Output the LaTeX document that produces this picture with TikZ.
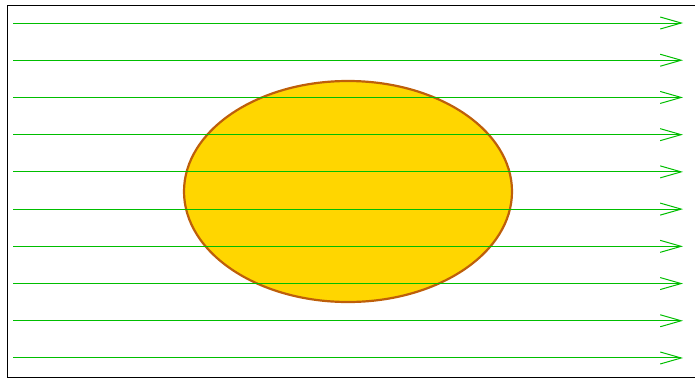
\documentclass[tikz,border=0pt]{standalone}
\usepackage{tikz}
\usetikzlibrary{arrows.meta,shapes.geometric}
\definecolor{flowgreen}{RGB}{0,190,0}
\definecolor{bodyfill}{RGB}{255,214,0}
\definecolor{bodyedge}{RGB}{190,95,10}

\begin{document}
\begin{tikzpicture}[
  x=1pt, y=-1pt,
  frame/.style={draw=black, line width=1pt},
  body/.style={ellipse, draw=bodyedge, fill=bodyfill, line width=2.2pt, minimum width=328pt, minimum height=221pt, inner sep=0pt},
  flow/.style={draw=flowgreen, line width=1pt, -{Straight Barb[length=21pt, width=12pt, line width=1pt]}}
]
\useasboundingbox (0,0) rectangle (695,378);
\draw[frame] (7,5) -- (700,5) (7,5) -- (7,377) -- (700,377);
\node[body] (obstacle) at (348,191.5) {};
% parallel stream lines
\foreach \i in {0,...,9}{
  \coordinate (in\i) at (13,23+37.22*\i);
  \coordinate (out\i) at (683,23+37.22*\i);
  \draw[flow] (in\i) -- (out\i);
}
\end{tikzpicture}
\end{document}
